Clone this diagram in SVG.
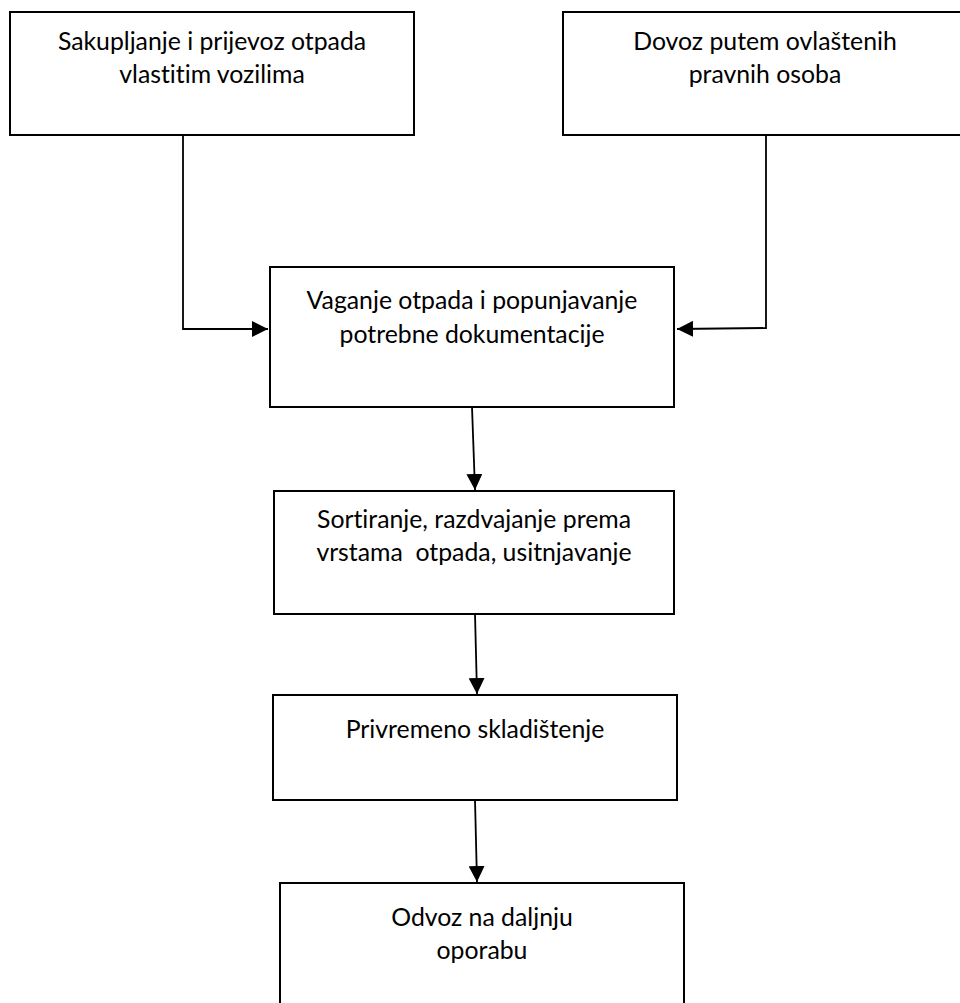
<svg xmlns="http://www.w3.org/2000/svg" width="960" height="1003" viewBox="0 0 960 1003">
<style>
  .box { fill: #ffffff; stroke: #000000; stroke-width: 2; }
  .lbl { font-family: Lato, "Open Sans", sans-serif; font-size: 24.8px; fill: #000000; text-anchor: middle; white-space: pre; font-variant-ligatures: none; font-feature-settings: "liga" 0; }
  .con { fill: none; stroke: #000000; stroke-width: 1.8; }
</style>
<defs>
  <marker id="arr" markerUnits="userSpaceOnUse" markerWidth="16" markerHeight="16" viewBox="0 0 16 16" refX="16" refY="8" orient="auto">
    <path d="M0,0 L16,8 L0,16 Z" fill="#000000"/>
  </marker>
</defs>
<rect width="960" height="1003" fill="#ffffff"/>
<g id="connectors">
  <polyline class="con" points="183,135 183,329 268,329" marker-end="url(#arr)"/>
  <polyline class="con" points="766,135 766,328 677,329" marker-end="url(#arr)"/>
  <line class="con" x1="472" y1="407" x2="475" y2="490" marker-end="url(#arr)"/>
  <line class="con" x1="475" y1="614" x2="477" y2="694" marker-end="url(#arr)"/>
  <line class="con" x1="475" y1="800" x2="477" y2="882" marker-end="url(#arr)"/>
</g>
<g id="n1">
  <rect class="box" x="10" y="12" width="404" height="123"/>
  <text class="lbl" x="212" y="50">Sakupljanje i prijevoz otpada</text>
  <text class="lbl" x="212" y="83">vlastitim vozilima</text>
</g>
<g id="n2">
  <rect class="box" x="563" y="12" width="404" height="123"/>
  <text class="lbl" x="765" y="50">Dovoz putem ovlaštenih</text>
  <text class="lbl" x="765" y="83">pravnih osoba</text>
</g>
<g id="n3">
  <rect class="box" x="270" y="267" width="404" height="140"/>
  <text class="lbl" x="472" y="309">Vaganje otpada i popunjavanje</text>
  <text class="lbl" x="472" y="343">potrebne dokumentacije</text>
</g>
<g id="n4">
  <rect class="box" x="274" y="491" width="400" height="123"/>
  <text class="lbl" x="474" y="528">Sortiranje, razdvajanje prema</text>
  <text class="lbl" x="474" y="561">vrstama  otpada, usitnjavanje</text>
</g>
<g id="n5">
  <rect class="box" x="273" y="695" width="404" height="105"/>
  <text class="lbl" x="475" y="738">Privremeno skladištenje</text>
</g>
<g id="n6">
  <rect class="box" x="280" y="883" width="404" height="130"/>
  <text class="lbl" x="482" y="926">Odvoz na daljnju</text>
  <text class="lbl" x="482" y="959">oporabu</text>
</g>
</svg>
